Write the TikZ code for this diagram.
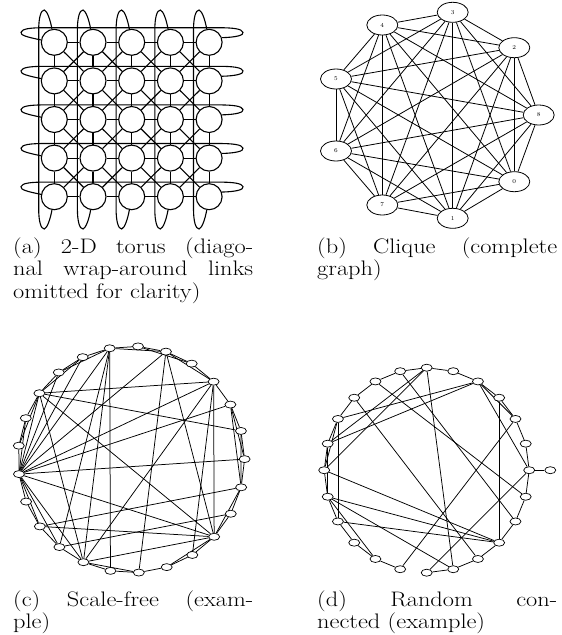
\documentclass[tikz,border=0pt]{standalone}
\usepackage{graphicx}
\usetikzlibrary{shapes.geometric}
\pgfdeclarelayer{bg}
\pgfsetlayers{bg,main}
\newcommand\capbox[1]{\scalebox{1.16}[1]{\parbox[t]{206.9pt}{\fontsize{21}{22.7}\selectfont #1}}}
\tikzset{
 tnode/.style={circle,draw,fill=white,minimum size=26pt,inner sep=0pt,line width=1.1pt},
 tline/.style={line width=1.1pt},
 knode/.style={ellipse,draw,fill=white,minimum width=31pt,minimum height=20pt,inner sep=0pt,line width=0.8pt,font=\fontsize{6}{7}\selectfont},
 kline/.style={line width=0.8pt},
 snode/.style={ellipse,draw,fill=white,minimum width=11pt,minimum height=7pt,inner sep=0pt,line width=0.7pt},
 sline/.style={line width=0.75pt},
 captext/.style={inner sep=0pt,anchor=base west},
}
\begin{document}
\begin{tikzpicture}[x=1pt,y=-1pt]
\useasboundingbox (0,0) rectangle (562,635);
% ---------- (a) torus ----------
\foreach \i in {0,...,4}{\foreach \j in {0,...,4}{
  \node[tnode] (t\i\j) at ({54.3+38.7*\j},{42.3+38.6*\i}) {};}}
\begin{pgfonlayer}{bg}
\foreach \i in {0,...,4}{\foreach \j [evaluate=\j as \k using int(\j+1)] in {0,...,3}{
  \draw[tline] (t\i\j) -- (t\i\k);
  \draw[tline] (t\j\i) -- (t\k\i);}}
\foreach \i [evaluate=\i as \ii using int(\i+1)] in {0,...,3}{\foreach \j [evaluate=\j as \jj using int(\j+1)] in {0,...,3}{
  \draw[tline] (t\i\j) -- (t\ii\jj);
  \draw[tline] (t\i\jj) -- (t\ii\j);}}
\foreach \i in {0,...,4}{
  \pgfmathsetmacro\yy{42.3+38.6*\i}
  \draw[tline] (t\i0.170) .. controls (28,\yy-5) and (20,\yy-7) .. (21,\yy-10)
     .. controls (22,\yy-13.5) and (30,\yy-14.6) .. (45,\yy-14.6) -- (218,\yy-14.6)
     .. controls (233,\yy-14.6) and (242,\yy-13.5) .. (243,\yy-10)
     .. controls (244,\yy-7) and (236,\yy-5) .. (t\i4.20);}
\foreach \j in {0,...,4}{
  \pgfmathsetmacro\xx{54.3+38.7*\j}
  \draw[tline] (t0\j.100) .. controls (\xx-4,20) and (\xx-7,11) .. (\xx-10,10)
     .. controls (\xx-13.5,10) and (\xx-15.6,18) .. (\xx-15.6,30) -- (\xx-15.6,209)
     .. controls (\xx-15.6,221) and (\xx-13.5,229) .. (\xx-10,229)
     .. controls (\xx-7,228) and (\xx-4,219) .. (t4\j.260);}
\end{pgfonlayer}
% ---------- (b) clique ----------
\node[knode] (k3) at (452.7,12.3) {3};
\node[knode] (k4) at (382.3,25) {4};
\node[knode] (k2) at (514.3,47.7) {2};
\node[knode] (k5) at (336,79) {5};
\node[knode] (k8) at (538.7,115) {8};
\node[knode] (k6) at (336,151) {6};
\node[knode] (k0) at (514.3,181.7) {0};
\node[knode] (k7) at (382.3,205) {7};
\node[knode] (k1) at (452.7,218.3) {1};
\begin{pgfonlayer}{bg}
\foreach \a in {0,...,8}{\foreach \b in {0,...,8}{\ifnum\a<\b \draw[kline] (k\a) -- (k\b);\fi}}
\end{pgfonlayer}
% ---------- (c) scale-free ----------
\foreach \k in {1,...,25}{
  \node[snode] (c\k) at ({131.3+113.3*sin(-11+14.4*(\k-1))},{459.5-113.3*cos(-11+14.4*(\k-1))}) {};}
\begin{pgfonlayer}{bg}
\foreach \k [evaluate=\k as \n using {int(mod(\k,25)+1)}] in {1,...,25}{\draw[sline] (c\k) -- (c\n);}
\foreach \a/\b in {20/22,20/23,20/24,20/25,20/1,20/3,20/5,20/6,20/8,20/11,20/16,20/17,20/18,
  23/5,23/7,23/11,23/16,23/21,23/25,1/15,1/16,1/17,1/3,1/24,3/5,3/11,3/14,5/11,5/16,5/12,
  6/8,6/9,7/9,9/18,10/17,11/18,11/16,11/13,11/9,16/14,2/4}{\draw[sline] (c\a) -- (c\b);}
\end{pgfonlayer}
% ---------- (d) random ----------
\foreach \k in {1,...,24}{
  \node[snode] (d\k) at ({426.7+102.5*sin(15*(\k-1))},{470.2-102.5*cos(15*(\k-1))}) {};}
\node[snode] (dp) at (550.3,470.2) {};
\begin{pgfonlayer}{bg}
\foreach \a/\b in {1/2,2/3,3/4,4/5,5/6,6/7,7/8,8/9,9/10,10/11,11/12,12/13,14/15,15/16,16/17,17/18,
  18/19,19/20,20/21,21/22,22/23,23/24,24/1,
  1/12,1/20,1/19,3/21,3/20,3/5,3/7,4/10,5/14,7/13,21/17,20/18,19/21,19/10,18/10,17/10,18/12,
  22/11,24/9,23/8,18/15}{\draw[sline] (d\a) -- (d\b);}
\draw[sline] (d7) -- (dp);
\end{pgfonlayer}
% ---------- captions ----------
\node[captext] (capa) at (13,253) {\capbox{(a) 2-D torus (diago-\linebreak nal wrap-around links\linebreak omitted for clarity)}};
\node[captext] (capb) at (317,253) {\capbox{(b) Clique (complete\linebreak graph)}};
\node[captext] (capc) at (13,606) {\capbox{(c) Scale-free (exam-\linebreak ple)}};
\node[captext] (capd) at (317,606) {\capbox{(d) Random con-\linebreak nected (example)}};
\end{tikzpicture}
\end{document}
